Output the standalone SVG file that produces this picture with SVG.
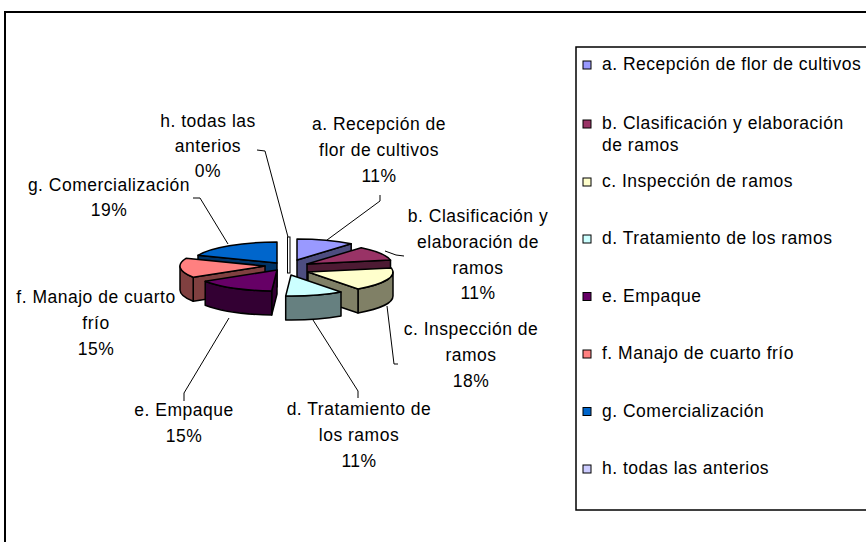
<svg xmlns="http://www.w3.org/2000/svg" width="866" height="542" viewBox="0 0 866 542">
<style>
text{font-family:"Liberation Sans",Arial,sans-serif;font-size:17.5px;letter-spacing:0.5px;fill:#000}
.lbl{text-anchor:middle}
.f{stroke:#000;stroke-width:1.5;stroke-linejoin:round}
.ld{fill:none;stroke:#000;stroke-width:1}
.sw{stroke:#000;stroke-width:1}
</style>
<rect x="0" y="0" width="866" height="542" fill="#fff"/>
<rect x="5" y="12" width="900" height="600" fill="#fff" stroke="#000" stroke-width="2"/>

<g id="slice-g">
<path class="f" fill="#003366" d="M277,263 L198,255.3 L198,279.3 L277,287 Z"/>
<path class="f" fill="#0066CC" d="M277,263 L198,255.3 A85,21 0 0,1 277,242 Z"/>
<text class="lbl" x="109" y="191">g. Comercialización</text>
<text class="lbl" x="109" y="216">19%</text>
</g>

<g id="slice-a">
<path class="f" fill="#4D4D80" d="M297,260 L351.2,243.8 L351.2,267.8 L297,284 Z"/>
<path class="f" fill="#9999FF" d="M297,260 L297,239 A85,21 0 0,1 351.2,243.8 Z"/>
<text class="lbl" x="379" y="130">a. Recepción de</text>
<text class="lbl" x="379" y="156">flor de cultivos</text>
<text class="lbl" x="379" y="182">11%</text>
</g>

<g id="slice-b">
<path class="f" fill="#4D1A33" d="M307,264 L390.5,260.1 L390.5,284.1 L307,288 Z"/>
<path class="f" fill="#993366" d="M307,264 L361.2,247.8 A85,21 0 0,1 390.5,260.1 Z"/>
<text class="lbl" x="478" y="222">b. Clasificación y</text>
<text class="lbl" x="478" y="248">elaboración de</text>
<text class="lbl" x="478" y="274">ramos</text>
<text class="lbl" x="478" y="299">11%</text>
</g>

<g id="slice-c">
<path class="f" fill="#808066" d="M393,272 A85,21 0 0,1 358,289 L358,313 A85,21 0 0,0 393,296 Z"/>
<path class="f" fill="#808066" d="M308,272 L358,289 L358,313 L308,296 Z"/>
<path class="f" fill="#FFFFCC" d="M308,272 L391.5,268.1 A85,21 0 0,1 358,289 Z"/>
<text class="lbl" x="471" y="335">c. Inspección de</text>
<text class="lbl" x="471" y="361">ramos</text>
<text class="lbl" x="471" y="387">18%</text>
</g>

<g id="slice-f">
<path class="f" fill="#804040" d="M265,266 L193.2,277.3 L193.2,301.3 L265,290 Z"/>
<path class="f" fill="#804040" d="M193.2,277.3 A85,21 0 0,1 180,266 L180,290 A85,21 0 0,0 193.2,301.3 Z"/>
<path class="f" fill="#FF8080" d="M265,266 L193.2,277.3 A85,21 0 0,1 186,258.3 Z"/>
<text class="lbl" x="96" y="303">f. Manajo de cuarto</text>
<text class="lbl" x="96" y="329">frío</text>
<text class="lbl" x="96" y="355">15%</text>
</g>

<g id="slice-e">
<path class="f" fill="#330033" d="M277,270 L271.7,291 L271.7,315 L277,294 Z"/>
<path class="f" fill="#330033" d="M271.7,291 A85,21 0 0,1 205.2,281.3 L205.2,305.3 A85,21 0 0,0 271.7,315 Z"/>
<path class="f" fill="#660066" d="M277,270 L271.7,291 A85,21 0 0,1 205.2,281.3 Z"/>
<text class="lbl" x="184" y="416">e. Empaque</text>
<text class="lbl" x="184" y="442">15%</text>
</g>

<g id="slice-d">
<path class="f" fill="#668080" d="M341,292 A85,21 0 0,1 285.7,296 L285.7,320 A85,21 0 0,0 341,316 Z"/>
<path class="f" fill="#CCFFFF" d="M291,275 L341,292 A85,21 0 0,1 285.7,296 Z"/>
<text class="lbl" x="359" y="415">d. Tratamiento de</text>
<text class="lbl" x="359" y="441">los ramos</text>
<text class="lbl" x="359" y="467">11%</text>
</g>

<g id="slice-h">
<rect x="287.5" y="237" width="2.5" height="36" fill="#fff" stroke="#000" stroke-width="1"/>
<text class="lbl" x="208" y="127">h. todas las</text>
<text class="lbl" x="208" y="152">anterios</text>
<text class="lbl" x="208" y="177">0%</text>
</g>

<g id="connectors">
<path class="ld" d="M380,195 L380,201 L327,240"/>
<path class="ld" d="M404,256 L396,255 L385,251"/>
<path class="ld" d="M387,306 L394,364 L398,364"/>
<path class="ld" d="M313,320 L358,391 L358,398"/>
<path class="ld" d="M229,318 L184,393 L184,401"/>
<path class="ld" d="M193,198 L200,198 L228,244"/>
<path class="ld" d="M257,150 L265,151 L288,237"/>
</g>

<g id="legend">
<rect x="576" y="47" width="300" height="463" fill="#fff" stroke="#000" stroke-width="1.5"/>
<g id="legend-a"><rect class="sw" x="583" y="61" width="8" height="8" fill="#9999FF"/><text x="602" y="70">a. Recepción de flor de cultivos</text></g>
<g id="legend-b"><rect class="sw" x="583" y="120" width="8" height="8" fill="#993366"/><text x="602" y="129">b. Clasificación y elaboración</text><text x="602" y="151">de ramos</text></g>
<g id="legend-c"><rect class="sw" x="583" y="178" width="8" height="8" fill="#FFFFCC"/><text x="602" y="187">c. Inspección de ramos</text></g>
<g id="legend-d"><rect class="sw" x="583" y="235" width="8" height="8" fill="#CCFFFF"/><text x="602" y="244">d. Tratamiento de los ramos</text></g>
<g id="legend-e"><rect class="sw" x="583" y="292.5" width="8" height="8" fill="#660066"/><text x="602" y="301.5">e. Empaque</text></g>
<g id="legend-f"><rect class="sw" x="583" y="350" width="8" height="8" fill="#FF8080"/><text x="602" y="359">f. Manajo de cuarto frío</text></g>
<g id="legend-g"><rect class="sw" x="583" y="407.5" width="8" height="8" fill="#0066CC"/><text x="602" y="416.5">g. Comercialización</text></g>
<g id="legend-h"><rect class="sw" x="583" y="465" width="8" height="8" fill="#CCCCFF"/><text x="602" y="474">h. todas las anterios</text></g>
</g>
</svg>
